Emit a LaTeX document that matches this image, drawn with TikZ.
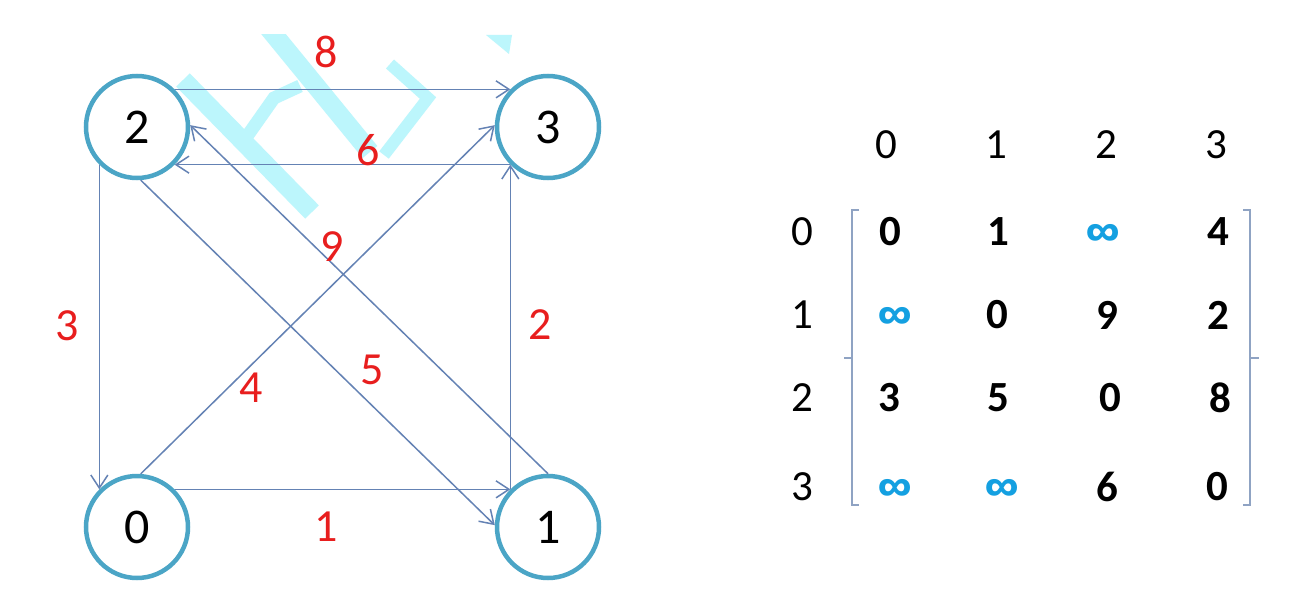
\documentclass[tikz,border=0pt]{standalone}
\usepackage{fontspec}
\setmainfont{Carlito}
\newfontfamily\infont{Fira Sans}
\usetikzlibrary{arrows.meta}
\definecolor{ring}{RGB}{75,165,198}
\definecolor{edgec}{RGB}{100,130,180}
\definecolor{wred}{RGB}{232,30,30}
\definecolor{infb}{RGB}{20,160,225}
\definecolor{brk}{RGB}{143,163,195}
\definecolor{wm}{RGB}{188,246,252}
\begin{document}
\begin{tikzpicture}[x=1pt,y=-1pt,
 vert/.style={circle,draw=ring,line width=4.5pt,fill=white,minimum size=102pt,inner sep=0pt,font=\fontsize{50}{60}\selectfont},
 arc/.style={draw=edgec,line width=1.5pt,-{Straight Barb[length=13pt,width=17pt]}},
 wlab/.style={text=wred,inner sep=0pt,font=\fontsize{46}{55}\selectfont},
 hdr/.style={inner sep=0pt,font=\fontsize{43}{52}\selectfont},
 ent/.style={inner sep=0pt,font=\fontsize{43}{52}\selectfont\bfseries},
 inf/.style={inner sep=0pt,text=infb,font=\infont\fontsize{37}{44}\selectfont\bfseries},
 brack/.style={draw=brk,line width=1.5pt},
 wmark/.style={draw=wm,line width=19pt}
]
\useasboundingbox (0,0) rectangle (1300,596);
\fill[white] (0,0) rectangle (1300,596);

% watermark
\begin{scope}
\clip (0,35) rectangle (620,240);
\draw[wmark] (262,20) -- (370,152);
\draw[wmark] (183,80) -- (312,212);
\draw[wmark,line width=13pt] (243,142) -- (274,98) -- (300,86);
\draw[wmark,line width=12pt] (390,64) -- (428,98) -- (384,155);
\fill[wm] (486,35) -- (512,35) -- (509,54) -- cycle;
\end{scope}

% vertices
\node[vert] (n2) at (137,127) {2};
\node[vert] (n3) at (548,127) {3};
\node[vert] (n0) at (137,527) {0};
\node[vert] (n1) at (548,527) {1};

% edges
\draw[arc] (n2.45) -- (n3.135);
\draw[arc] (n3.-135) -- (n2.-45);
\draw[arc] (n2.-135) -- (n0.135);
\draw[arc] (n1.135) -- (n3.-135);
\draw[arc] (n0.45) -- (n1.135);
\draw[arc] (n0.86) -- (n3.178);
\draw[arc] (n2.-86) -- (n1.178);
\draw[arc] (n1.90) -- (n2.2);

% weights
\node[wlab] (w8) at (326,52) {8};
\node[wlab] (w6) at (368,150) {6};
\node[wlab] (w3) at (67,326) {3};
\node[wlab] (w4) at (251,388) {4};
\node[wlab] (w9) at (332,247) {9};
\node[wlab] (w5) at (372,370) {5};
\node[wlab] (w2) at (540,325) {2};
\node[wlab] (w1) at (326,527) {1};

% matrix headers
\node[hdr] (c0) at (886,145) {0};
\node[hdr] (c1) at (996,145) {1};
\node[hdr] (c2) at (1106,145) {2};
\node[hdr] (c3) at (1216,145) {3};
\node[hdr] (r0) at (802,232) {0};
\node[hdr] (r1) at (802,315) {1};
\node[hdr] (r2) at (802,398) {2};
\node[hdr] (r3) at (802,487) {3};

% entries
\node[ent] (m00) at (890,232) {0};
\node[ent] (m01) at (998,232) {1};
\node[inf] (m02) at (1103,234) {∞};
\node[ent] (m03) at (1218,232) {4};
\node[inf] (m10) at (895,317) {∞};
\node[ent] (m11) at (997,315) {0};
\node[ent] (m12) at (1107,315) {9};
\node[ent] (m13) at (1218,315) {2};
\node[ent] (m20) at (889,398) {3};
\node[ent] (m21) at (998,398) {5};
\node[ent] (m22) at (1110,398) {0};
\node[ent] (m23) at (1220,398) {8};
\node[inf] (m30) at (895,489) {∞};
\node[inf] (m31) at (1002,489) {∞};
\node[ent] (m32) at (1107,487) {6};
\node[ent] (m33) at (1217,487) {0};

% brackets
\coordinate (lt) at (852,210);
\coordinate (lb) at (852,505);
\coordinate (lm) at (852,358);
\coordinate (rt) at (1250,210);
\coordinate (rb) at (1250,505);
\coordinate (rm) at (1250,358);
\draw[brack] ([xshift=7pt]lt) -- (lt) -- (lb) -- ([xshift=7pt]lb);
\draw[brack] (lm) -- ([xshift=-8pt]lm);
\draw[brack] ([xshift=-7pt]rt) -- (rt) -- (rb) -- ([xshift=-7pt]rb);
\draw[brack] (rm) -- ([xshift=9pt]rm);
\end{tikzpicture}
\end{document}
